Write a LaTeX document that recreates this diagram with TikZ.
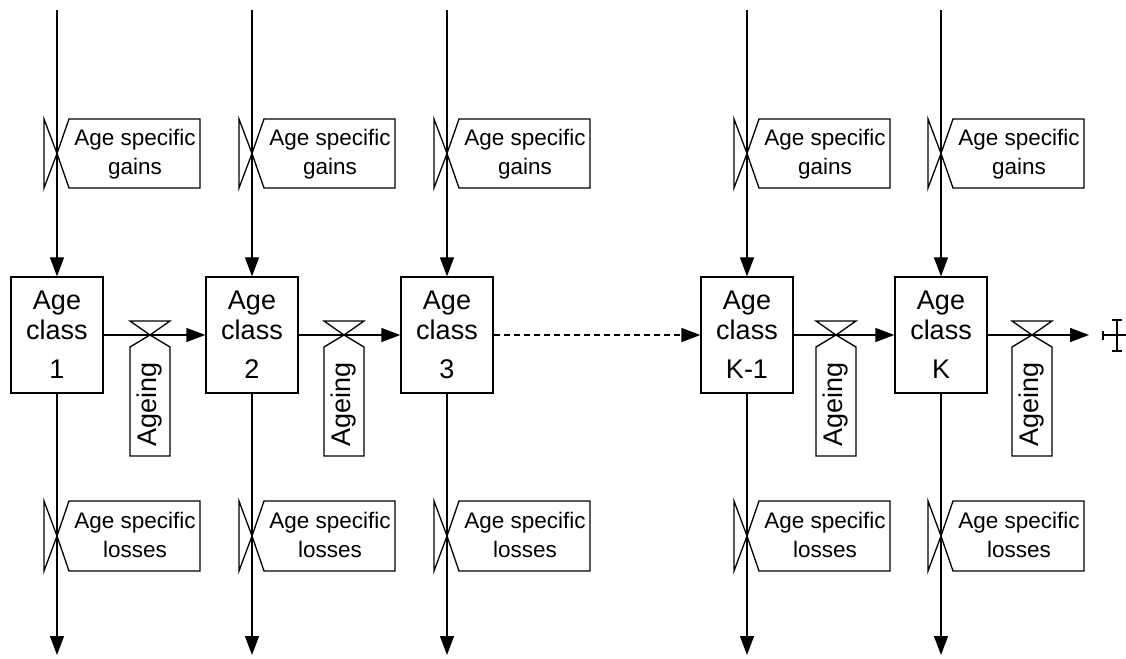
\documentclass[tikz,border=0pt]{standalone}
\usepackage{fontspec}
\setmainfont{Liberation Sans}
\usetikzlibrary{arrows.meta}
\tikzset{
  flow/.style={-{Triangle[length=19bp,width=14bp]}},
  classbox/.style={draw, minimum width=92bp, minimum height=116bp, inner sep=0pt,
    align=center, font=\fontsize{27bp}{30bp}\selectfont},
  lbl/.style={align=center, inner sep=0pt, font=\fontsize{22.5bp}{29bp}\selectfont},
  agelbl/.style={rotate=90, inner sep=0pt, font=\fontsize{27bp}{30bp}\selectfont},
  valve/.style={draw, line join=miter},
}
\begin{document}
\begin{tikzpicture}[x=1bp,y=-1bp,line width=1.3bp]
\fill[white] (0,0) rectangle (1126,659);
\useasboundingbox (0,0) rectangle (1126,659);

% age classes with gains and losses
\foreach \i/\x/\n in {1/57/1, 2/252/2, 3/447/3, 4/747/K-1, 5/941/K}{
  \node[classbox] (c\i) at (\x,335) {Age\\class\\[9bp]\n};
  \coordinate (top\i) at (\x,10);
  \coordinate (bot\i) at (\x,655);
  \draw[flow] (top\i) -- (c\i);
  \draw[flow] (c\i) -- (bot\i);
  % gains valve and label
  \draw[valve] ({\x-13},119) -- (\x,153.5) -- ({\x-13},188) -- cycle;
  \draw[valve] ({\x+12},119) -- ({\x+143},119) -- ({\x+143},188) -- ({\x+12},188) -- (\x,153.5) -- cycle;
  \node[lbl] (g\i) at ({\x+78},154.6) {Age specific\\gains};
  % losses valve and label
  \draw[valve] ({\x-13},501) -- (\x,536) -- ({\x-13},571) -- cycle;
  \draw[valve] ({\x+12},501) -- ({\x+143},501) -- ({\x+143},571) -- ({\x+12},571) -- (\x,536) -- cycle;
  \node[lbl] (l\i) at ({\x+78},534.8) {Age specific\\losses};
}

% ageing flows
\coordinate (sinkend) at (1089,335);
\draw[flow] (c1) -- (c2);
\draw[flow] (c2) -- (c3);
\draw[flow, dash pattern=on 6bp off 4bp] (c3) -- (c4);
\draw[flow] (c4) -- (c5);
\draw[flow] (c5) -- (sinkend);

\foreach \j/\cx in {1/150, 2/344, 3/836, 4/1032}{
  \draw[valve] ({\cx-20},321) -- ({\cx+20},321) -- (\cx,335) -- cycle;
  \draw[valve] (\cx,335) -- ({\cx+20},347) -- ({\cx+20},456) -- ({\cx-20},456) -- ({\cx-20},347) -- cycle;
  \node[agelbl] (a\j) at (\cx,404.5) {Ageing};
}

% sink symbol
\draw (1103,335) -- (1126,335);
\draw (1103,331) -- (1103,340);
\draw (1117,320) -- (1117,351);
\draw (1112,320) -- (1122,320);
\draw (1112,351) -- (1122,351);
\end{tikzpicture}
\end{document}
